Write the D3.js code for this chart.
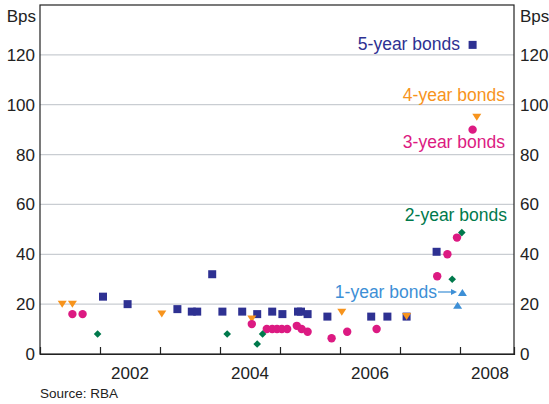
<!DOCTYPE html>
<html><head><meta charset="utf-8">
<script src="https://cdn.jsdelivr.net/npm/d3@7"></script>
<style>
html,body{margin:0;padding:0;background:#fff;}
text{font-family:"Liberation Sans",Arial,sans-serif;}
</style></head>
<body>
<svg id="chart" width="549" height="404"></svg>
<script>
// ---- data (year as decimal, value in basis points) ----
const fiveYearX = [2002.05,2002.46,2003.29,2003.53,2003.62,2003.87,2004.04,2004.37,2004.62,2004.87,2005.04,2005.30,2005.35,2005.46,2005.79,2006.52,2006.79,2007.11,2007.61,2008.21];
const fiveYearY = [23,20,18,17,17,32,17,17,16,17,16,17,17,16,15,15,15,15,41,124];
const fourYearX = [2001.37,2001.54,2003.03,2004.53,2006.03,2007.11,2008.28];
const fourYearY = [20,20,16,14,16.7,15,95];
const threeYearX = [2001.54,2001.71,2004.53,2004.78,2004.87,2004.95,2005.03,2005.12,2005.28,2005.36,2005.46,2005.86,2006.12,2006.61,2007.62,2007.79,2007.95,2008.21];
const threeYearY = [16,16,12,10,10,10,10,10,11.3,10,8.9,6.3,8.9,10,31.2,40,46.7,90];
const twoYearX = [2001.96,2004.12,2004.62,2004.71,2007.87,2008.03];
const twoYearY = [8,8,4,8,30,48.7];
const oneYearX = [2007.96,2008.04];
const oneYearY = [19.6,24.7];
const yearTicks = [2002,2003,2004,2005,2006,2007,2008];
const yearLabels = [2002,2004,2006,2008];
const valueTicks = [0,20,40,60,80,100,120];

const colors = {five:"#2e3192", four:"#f7941d", three:"#dc1a82", two:"#00794c", one:"#3d8fd6"};

const svg = d3.select("#chart");
const x = d3.scaleLinear().domain([2001, 2008.9]).range([40, 514]);
const y = d3.scaleLinear().domain([0, 140]).range([354, 5]);

// gridlines
svg.append("g").selectAll("line").data(valueTicks.filter(v=>v>0)).join("line")
  .attr("x1", x.range()[0]).attr("x2", x.range()[1])
  .attr("y1", d=>y(d)).attr("y2", d=>y(d))
  .attr("stroke", "#c9cdd2").attr("stroke-width", 1.3);

// frame
svg.append("rect").attr("x", 40).attr("y", 5).attr("width", 474).attr("height", 349)
  .attr("fill","none").attr("stroke","#222").attr("stroke-width",1.2);

// bottom axis ticks (inward)
const xAxis = d3.axisBottom(x).tickValues(yearTicks).tickSize(-7).tickFormat("");
const gx = svg.append("g").attr("transform","translate(0,354)").call(xAxis);
gx.select(".domain").attr("stroke","#222").attr("stroke-width",1.2);
gx.selectAll(".tick line").attr("stroke","#222").attr("stroke-width",1.2);

// year labels centred in each year
svg.append("g").selectAll("text").data(yearLabels).join("text")
  .attr("x", d=>x(d+0.5)).attr("y", 379)
  .attr("text-anchor","middle").attr("font-size",17).attr("fill","#222")
  .text(d=>d);

// y labels
const lab = svg.append("g").attr("font-size",17).attr("fill","#222");
lab.selectAll(".l").data(valueTicks).join("text").attr("class","l")
  .attr("x",35).attr("y",d=>y(d)+6).attr("text-anchor","end").text(d=>d);
lab.selectAll(".r").data(valueTicks).join("text").attr("class","r")
  .attr("x",520).attr("y",d=>y(d)+6).attr("text-anchor","start").text(d=>d);
lab.append("text").attr("x",36).attr("y",22).attr("text-anchor","end").text("Bps");
lab.append("text").attr("x",520).attr("y",22).attr("text-anchor","start").text("Bps");

svg.append("text").attr("x",40).attr("y",398).attr("font-size",13.5).attr("fill","#222").text("Source: RBA");

// markers
function pts(xs, ys){ return xs.map((v,i)=>({x:v, y:ys[i]})); }
const g = svg.append("g");
g.selectAll(".sq").data(pts(fiveYearX, fiveYearY)).join("rect").attr("class","sq")
  .attr("x", d=>x(d.x)-4).attr("y", d=>y(d.y)-4).attr("width",8).attr("height",8)
  .attr("fill", colors.five);
g.selectAll(".dn").data(pts(fourYearX, fourYearY)).join("path").attr("class","dn")
  .attr("d", d=>{const cx=x(d.x), cy=y(d.y); return `M${cx-4.5},${cy-3.5}L${cx+4.5},${cy-3.5}L${cx},${cy+3.5}Z`;})
  .attr("fill", colors.four);
g.selectAll(".ci").data(pts(threeYearX, threeYearY)).join("circle").attr("class","ci")
  .attr("cx", d=>x(d.x)).attr("cy", d=>y(d.y)).attr("r",4.2)
  .attr("fill", colors.three);
g.selectAll(".di").data(pts(twoYearX, twoYearY)).join("path").attr("class","di")
  .attr("d", d=>{const cx=x(d.x), cy=y(d.y); return `M${cx},${cy-3.8}L${cx+3.8},${cy}L${cx},${cy+3.8}L${cx-3.8},${cy}Z`;})
  .attr("fill", colors.two);
g.selectAll(".up").data(pts(oneYearX, oneYearY)).join("path").attr("class","up")
  .attr("d", d=>{const cx=x(d.x), cy=y(d.y); return `M${cx-4.5},${cy+3.5}L${cx+4.5},${cy+3.5}L${cx},${cy-3.5}Z`;})
  .attr("fill", colors.one);

// series labels
const sl = svg.append("g").attr("font-size",17.5).attr("text-anchor","end");
sl.append("text").attr("x",460).attr("y",50).attr("fill",colors.five).text("5-year bonds");
sl.append("text").attr("x",505).attr("y",101).attr("fill",colors.four).text("4-year bonds");
sl.append("text").attr("x",505).attr("y",148).attr("fill",colors.three).text("3-year bonds");
sl.append("text").attr("x",507).attr("y",221).attr("fill",colors.two).text("2-year bonds");
sl.append("text").attr("x",437).attr("y",298).attr("fill",colors.one).text("1-year bonds");
// arrow
svg.append("line").attr("x1",438).attr("x2",452).attr("y1",292).attr("y2",292)
  .attr("stroke",colors.one).attr("stroke-width",1.2);
svg.append("path").attr("d","M451,289L457,292L451,295Z").attr("fill",colors.one);
</script>
</body></html>
